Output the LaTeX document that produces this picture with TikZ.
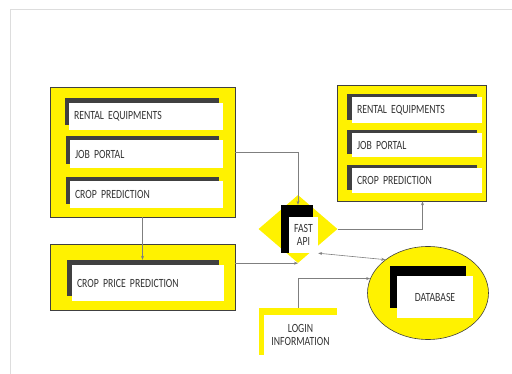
\documentclass[tikz,border=0pt]{standalone}
\usepackage{fontspec}
\setmainfont{Carlito}[FakeStretch=0.78, WordSpace=0.75]
\usetikzlibrary{shapes.geometric,shadows,arrows.meta}

\definecolor{barcol}{HTML}{404040}
\definecolor{linecol}{HTML}{7F7F7F}
\definecolor{textcol}{HTML}{333333}
\definecolor{framecol}{HTML}{DDDDDD}

\tikzset{
  panel/.style={draw=barcol, fill=yellow, line width=0.6pt, inner sep=0pt},
  card/.style n args={3}{fill=white, inner sep=5pt, text=textcol, align=left,
    font=\fontsize{12.5}{14}\selectfont,
    general shadow={fill=#1, shadow xshift=#2, shadow yshift=#3}},
  plate/.style={fill=#1, inner sep=0pt},
  label/.style={fill=white, inner sep=0pt, text=textcol, align=center,
    font=\fontsize{12.5}{14}\selectfont},
  link/.style={draw=linecol, line width=0.6pt, >={Stealth[length=4pt,width=3pt]}},
}

\begin{document}
\begin{tikzpicture}[x=1pt, y=-1pt]
    \useasboundingbox (0,0) rectangle (512,374);

    % Page edge
    \draw[framecol, line width=1.5pt] (10.5,374) -- (10.5,9.5) -- (512,9.5);

    % Outer yellow panels
    \node[panel, minimum width=185pt, minimum height=130pt] (leftbox) at (142.5,152) {};
    \node[panel, minimum width=149pt, minimum height=116pt] (rightbox) at (411.5,143) {};
    \node[panel, minimum width=185pt, minimum height=66pt] (pricebox) at (142.5,277) {};

    % Services on the left
    \node[card={barcol}{-4pt}{5pt}, text width=144pt, minimum height=27pt] (lrent) at (146,116.5) {RENTAL EQUIPMENTS};
    \node[card={barcol}{-4pt}{4pt}, text width=143pt, minimum height=28pt] (ljob) at (146.5,154) {JOB PORTAL};
    \node[card={barcol}{-4pt}{4pt}, text width=143pt, minimum height=27pt] (lcrop) at (146.5,194.5) {CROP PREDICTION};

    % Services on the right
    \node[card={barcol}{-5pt}{3pt}, text width=120pt, minimum height=26pt] (rrent) at (417,110) {RENTAL EQUIPMENTS};
    \node[card={barcol}{-5pt}{3pt}, text width=120pt, minimum height=24pt] (rjob) at (417,145) {JOB PORTAL};
    \node[card={barcol}{-5pt}{3pt}, text width=120pt, minimum height=25pt] (rcrop) at (417,180.5) {CROP PREDICTION};

    % Price prediction
    \node[card={barcol}{-5pt}{5pt}, text width=142pt, minimum height=36pt] (price) at (148,283) {CROP PRICE PREDICTION};

    % Fast API
    \node[diamond, fill=yellow, minimum width=79pt, minimum height=68pt, inner sep=0pt] (fast) at (298,229) {};
    \node[plate=black, minimum width=32pt, minimum height=48pt] (fastbar) at (297,229) {};
    \node[label, minimum width=29pt, minimum height=36pt] (fastcard) at (303.5,235) {FAST\\[-1pt]API};

    % Database
    \node[panel, ellipse, minimum width=121pt, minimum height=93pt] (db) at (428,293) {};
    \node[card={black}{-7pt}{10pt}, align=center, minimum width=76pt, minimum height=42pt, inner sep=0pt] (dbcard) at (435,297) {DATABASE};

    % Login
    \node[plate=yellow, minimum width=78pt, minimum height=47pt] (loginbox) at (298,331.5) {};
    \node[label, minimum width=73pt, minimum height=40pt] (login) at (300.5,335) {LOGIN\\[-1pt]INFORMATION};

    % Connectors
    \draw[link, ->] (leftbox.east) -| (fastbar.north -| fast.north);
    \draw[link, ->] (leftbox.south) -- ([yshift=5pt]price.north -| leftbox.south);
    \draw[link, ->] (fast.south -| pricebox.east) -- (fast.south);
    \draw[link, ->] (fast.east) -| ([xshift=11pt]rightbox.south);
    \draw[link, <->] (fastcard.south east) -- (db.142);
    \draw[link, ->] (loginbox.north) |- (db.166);
\end{tikzpicture}
\end{document}
